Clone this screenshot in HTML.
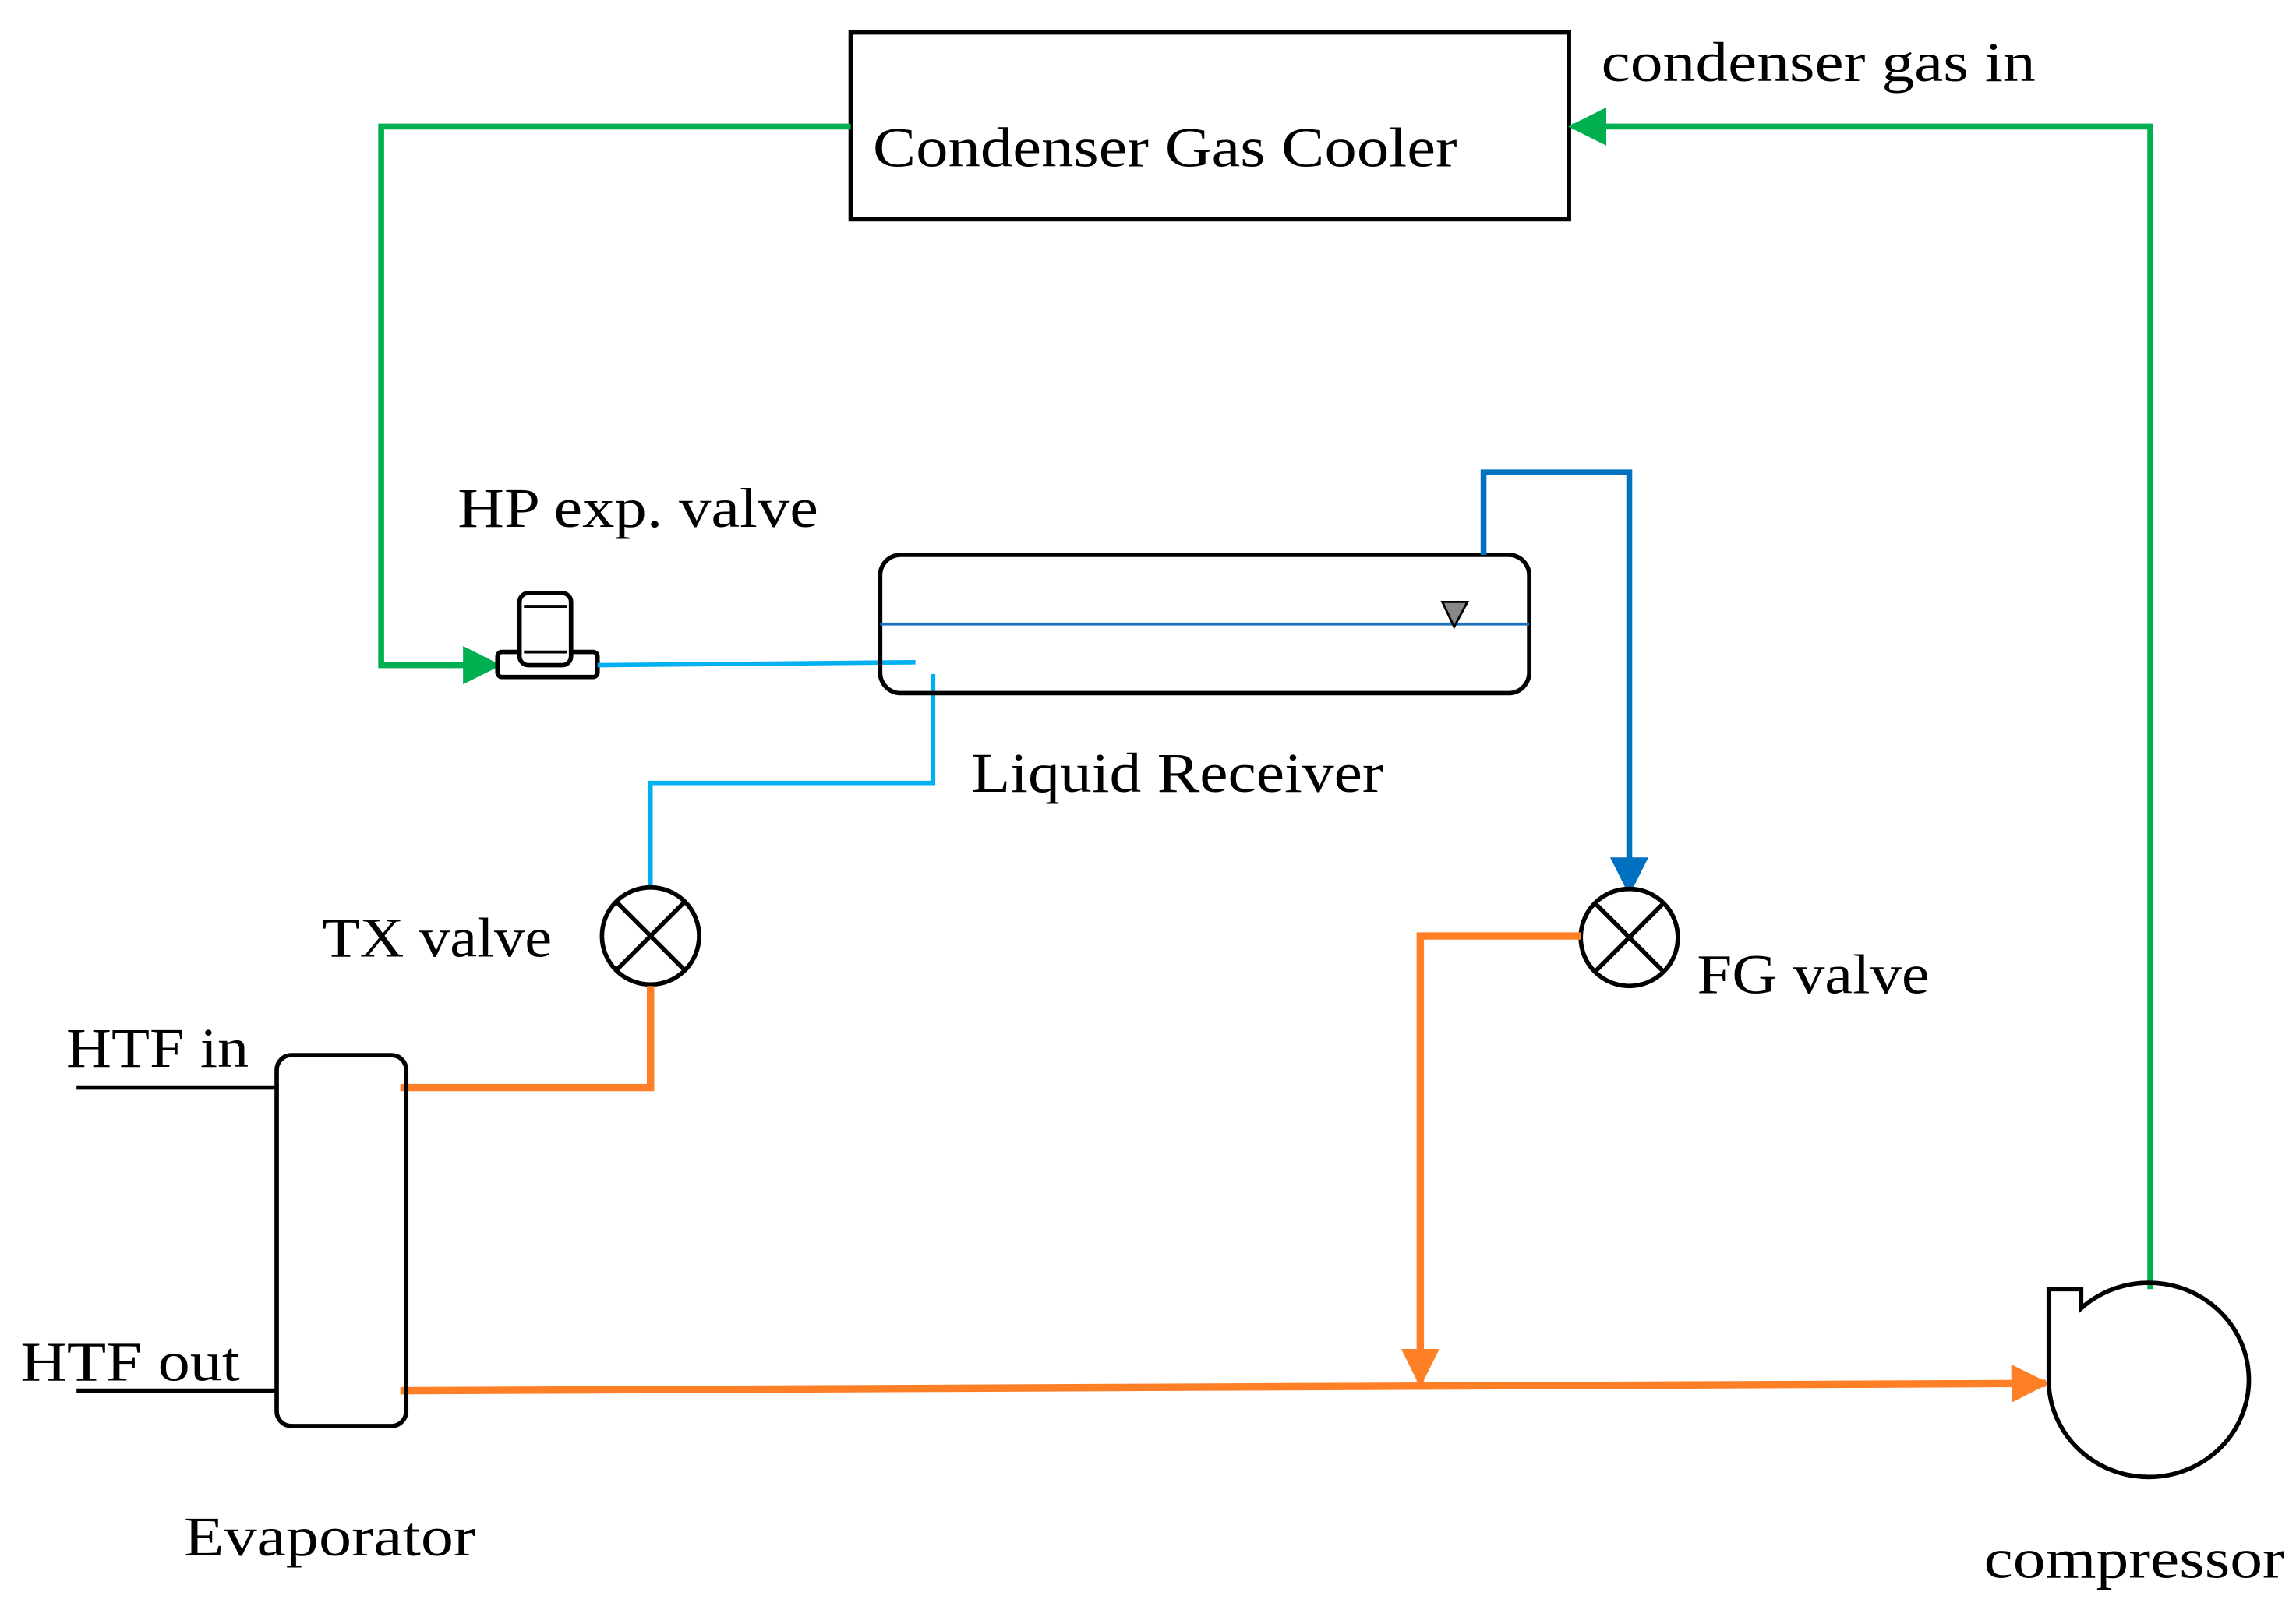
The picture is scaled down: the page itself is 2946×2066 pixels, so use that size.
<!DOCTYPE html>
<html><head><meta charset="utf-8"><style>
html,body{margin:0;padding:0;background:#fff;}
svg{display:block;}
text{font-family:"Liberation Serif",serif;font-size:38px;fill:#000;}
</style></head><body>
<svg width="2946" height="2066" viewBox="0 0 1560 1094" xmlns="http://www.w3.org/2000/svg">
<defs>
<marker id="ab" viewBox="0 0 10 10" refX="9" refY="5" markerWidth="26" markerHeight="26" orient="auto" markerUnits="userSpaceOnUse"><path d="M0,0 L10,5 L0,10z" fill="#0070c0"/></marker>
<marker id="ao" viewBox="0 0 10 10" refX="9" refY="5" markerWidth="26" markerHeight="26" orient="auto" markerUnits="userSpaceOnUse"><path d="M0,0 L10,5 L0,10z" fill="#ff7f27"/></marker>
<marker id="ag2" viewBox="0 0 10 10" refX="9" refY="5" markerWidth="26" markerHeight="26" orient="auto" markerUnits="userSpaceOnUse"><path d="M0,0 L10,5 L0,10z" fill="#00b050"/></marker>
</defs>
<rect x="578" y="22" width="488" height="127" fill="none" stroke="#000" stroke-width="3"/>
<text x="593" y="113" textLength="397" lengthAdjust="spacingAndGlyphs">Condenser Gas Cooler</text>
<text x="1088" y="55" textLength="295" lengthAdjust="spacingAndGlyphs">condenser gas in</text>
<polyline points="1461,876 1461,86 1068,86" fill="none" stroke="#00b050" stroke-width="4" marker-end="url(#ag2)"/>
<polyline points="578,86 259,86 259,452 338,452" fill="none" stroke="#00b050" stroke-width="4" marker-end="url(#ag2)"/>
<rect x="338" y="443" width="68" height="17" rx="3" fill="#fff" stroke="#000" stroke-width="3"/>
<rect x="353" y="403" width="35" height="49" rx="6" fill="#fff" stroke="#000" stroke-width="3"/>
<line x1="356" y1="412" x2="385" y2="412" stroke="#000" stroke-width="2"/>
<line x1="356" y1="443" x2="385" y2="443" stroke="#000" stroke-width="2"/>
<text x="311" y="358" textLength="245" lengthAdjust="spacingAndGlyphs">HP exp. valve</text>
<polyline points="406,452 622,450" fill="none" stroke="#00b0f0" stroke-width="3"/>
<polyline points="634,458 634,532 442,532 442,606" fill="none" stroke="#00b0f0" stroke-width="3"/>
<rect x="598" y="377" width="441" height="94" rx="14" fill="none" stroke="#000" stroke-width="3"/>
<line x1="598" y1="424" x2="1039" y2="424" stroke="#1f6fc0" stroke-width="2"/>
<path d="M980,409 L997,409 L988,426z" fill="#888" stroke="#000" stroke-width="1.5"/>
<text x="660" y="538" textLength="280" lengthAdjust="spacingAndGlyphs">Liquid Receiver</text>
<polyline points="1008,377 1008,321 1107,321 1107,606" fill="none" stroke="#0070c0" stroke-width="4" marker-end="url(#ab)"/>
<circle cx="442" cy="636" r="33" fill="#fff" stroke="#000" stroke-width="3"/>
<line x1="419" y1="613" x2="465" y2="659" stroke="#000" stroke-width="3"/>
<line x1="465" y1="613" x2="419" y2="659" stroke="#000" stroke-width="3"/>
<text x="219" y="650" textLength="156" lengthAdjust="spacingAndGlyphs">TX valve</text>
<circle cx="1107" cy="637" r="33" fill="#fff" stroke="#000" stroke-width="3"/>
<line x1="1084" y1="614" x2="1130" y2="660" stroke="#000" stroke-width="3"/>
<line x1="1130" y1="614" x2="1084" y2="660" stroke="#000" stroke-width="3"/>
<text x="1153" y="675" textLength="158" lengthAdjust="spacingAndGlyphs">FG valve</text>
<polyline points="442,670 442,739 272,739" fill="none" stroke="#ff7f27" stroke-width="5"/>
<polyline points="1074,636 965,636 965,940" fill="none" stroke="#ff7f27" stroke-width="5" marker-end="url(#ao)"/>
<polyline points="272,945 1390,940" fill="none" stroke="#ff7f27" stroke-width="5" marker-end="url(#ao)"/>
<rect x="188" y="717" width="88" height="252" rx="10" fill="none" stroke="#000" stroke-width="3"/>
<line x1="52" y1="739" x2="188" y2="739" stroke="#000" stroke-width="3"/>
<line x1="52" y1="945" x2="188" y2="945" stroke="#000" stroke-width="3"/>
<text x="45" y="725" textLength="124" lengthAdjust="spacingAndGlyphs">HTF in</text>
<text x="14" y="938" textLength="149" lengthAdjust="spacingAndGlyphs">HTF out</text>
<text x="125" y="1057" textLength="198" lengthAdjust="spacingAndGlyphs">Evaporator</text>
<path d="M1414,889 A68,66 0 1 1 1392,940 L1392,876 L1414,876 Z" fill="none" stroke="#000" stroke-width="3"/>
<text x="1348" y="1072" textLength="204" lengthAdjust="spacingAndGlyphs">compressor</text>
</svg>
</body></html>
